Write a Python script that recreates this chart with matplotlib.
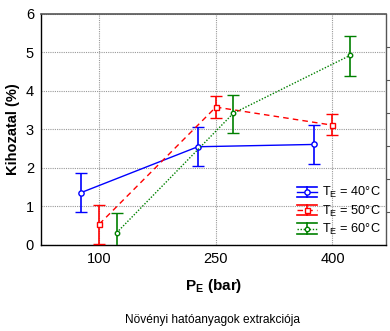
import matplotlib
matplotlib.use("Agg")
import matplotlib.pyplot as plt
from matplotlib.legend_handler import HandlerBase
from matplotlib.lines import Line2D
import numpy as np

plt.rcParams['font.family'] = ['Liberation Sans', 'DejaVu Sans']

pressures = ["100", "250", "400"]
series_labels = ["T$_\\mathregular{E}$ = 40°C", "T$_\\mathregular{E}$ = 50°C", "T$_\\mathregular{E}$ = 60°C"]
t40 = [1.36, 2.55, 2.61]
t40_lo = [0.85, 2.05, 2.10]
t40_hi = [1.87, 3.05, 3.11]
t50 = [0.54, 3.58, 3.11]
t50_lo = [0.03, 3.29, 2.85]
t50_hi = [1.04, 3.88, 3.40]
t60 = [0.32, 3.42, 4.92]
t60_lo = [-0.18, 2.90, 4.40]
t60_hi = [0.82, 3.89, 5.43]

fig = plt.figure(figsize=(3.9, 3.31), dpi=100)
ax = fig.add_axes([0.105, 0.26, 0.885, 0.698])


class Proxy:
    def __init__(self, color, ls, marker, ms):
        self.color, self.ls, self.marker, self.ms = color, ls, marker, ms


class ErrHandler(HandlerBase):
    def create_artists(self, legend, h, xdescent, ydescent, width, height, fontsize, trans):
        x0, x1 = -xdescent, width - xdescent
        yc = height / 2 - ydescent
        d = 3.7
        xm = (x0 + x1) / 2
        arts = [
            Line2D([x0, x1], [yc + d, yc + d], color=h.color, lw=1.2, transform=trans),
            Line2D([x0, x1], [yc - d, yc - d], color=h.color, lw=1.2, transform=trans),
            Line2D([xm, xm], [yc - d, yc + d], color=h.color, lw=1.2, transform=trans),
            Line2D([x0, x1], [yc, yc], color=h.color, lw=1.0, linestyle=h.ls, transform=trans),
            Line2D([xm], [yc], color=h.color, marker=h.marker, markersize=h.ms,
                   markerfacecolor='white', markeredgecolor=h.color, markeredgewidth=1.0,
                   linestyle='none', transform=trans),
        ]
        return arts


x = np.arange(len(pressures))
specs = [
    (t40, t40_lo, t40_hi, -0.155, '#0000ff', '-', 'o', 3.8, series_labels[0]),
    (t50, t50_lo, t50_hi, 0.0, '#ff0000', (0, (4, 3)), 's', 3.6, series_labels[1]),
    (t60, t60_lo, t60_hi, 0.15, '#008000', (0, (1, 1.2)), 'o', 3.2, series_labels[2]),
]
proxies = []
for vals, lo, hi, off, col, ls, mk, ms, lab in specs:
    vals = np.array(vals); lo = np.array(lo); hi = np.array(hi)
    yerr = np.vstack([vals - lo, hi - vals])
    ax.errorbar(x + off, vals, yerr=yerr, color=col, linestyle=ls, linewidth=1.0,
                marker=mk, markersize=ms, markerfacecolor='white', markeredgecolor=col,
                markeredgewidth=1.0, capsize=4.4, capthick=1.2, elinewidth=1.2,
                zorder=3)
    proxies.append(Proxy(col, ls, mk, ms))

ax.set_xlim(-0.5, 2.46)
ax.set_ylim(0, 6)
ax.set_xticks(x)
ax.set_xticklabels(pressures)
ax.set_yticks(range(7))
ax.tick_params(axis='both', length=0, labelsize=10.5, pad=5)
ax.grid(True, color='#999999', linestyle=(0, (1, 1)), linewidth=0.8)
ax.set_axisbelow(True)
for s in ['left', 'bottom']:
    ax.spines[s].set_color('black')
    ax.spines[s].set_linewidth(1.0)
ax.spines['top'].set_color('#555555')
ax.spines['top'].set_linewidth(1.2)
ax.spines['right'].set_color('#555555')
ax.spines['right'].set_linewidth(1.0)

ax2 = ax.twinx()
ax2.set_ylim(0, 7)
ax2.set_yticks(range(1, 7))
ax2.set_yticklabels([])
ax2.tick_params(axis='y', direction='out', length=3, color='#555555')
for s in ax2.spines.values():
    s.set_visible(False)

ax.set_xlabel("P$_\\mathregular{E}$ (bar)", fontsize=11, fontweight='bold', labelpad=8)
ax.set_ylabel("Kihozatal (%)", fontsize=10.5, fontweight='bold', labelpad=4)

leg = ax.legend(proxies, series_labels, handler_map={Proxy: ErrHandler()},
                loc='lower right', frameon=False, fontsize=9.2, handlelength=1.6,
                handleheight=1.0, handletextpad=0.4, labelspacing=0.26, borderaxespad=0.0,
                bbox_to_anchor=(1.0, 0.012))

fig.text(0.545, 0.016, "Növényi hatóanyagok extrakciója", ha='center', va='bottom', fontsize=8.6)

fig.savefig("out.png", dpi=100)
